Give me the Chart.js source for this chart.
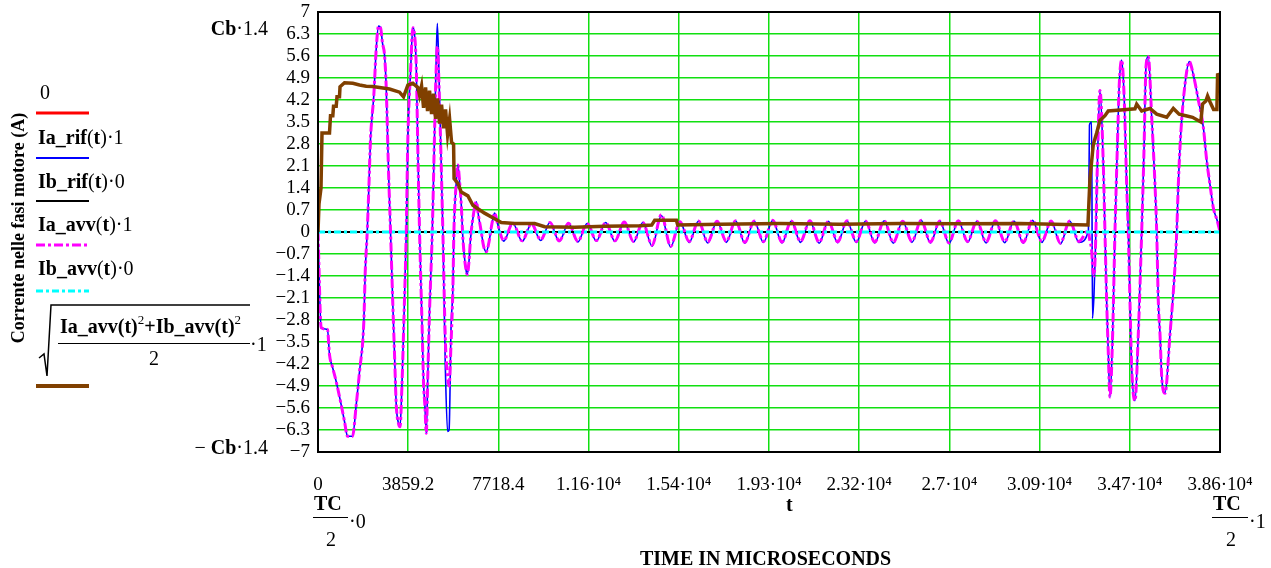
<!DOCTYPE html>
<html>
<head>
<meta charset="utf-8">
<script src="https://cdn.jsdelivr.net/npm/chart.js@4"></script>
<style>
html, body { margin: 0; padding: 0; background: #fff; }
#wrap { position: relative; width: 1271px; height: 568px; font-family: "Liberation Serif", "Times New Roman", serif; color: #000; }
#wrap canvas { position: absolute; left: 0; top: 0; }
.t { position: absolute; white-space: nowrap; font-size: 20px; line-height: 20px; }
.bar { position: absolute; height: 0; border-top: 1.5px solid #000; }
sup { font-size: 13px; vertical-align: 0; position: relative; top: -9px; }
</style>
</head>
<body>
<div id="wrap">
<canvas id="chart" width="1271" height="568"></canvas>

<div class="t" style="left:18px;top:228px;font-weight:bold;font-size:18px;transform:translate(-50%,-50%) rotate(-90deg);">Corrente nelle fasi motore (A)</div>

<div class="t" style="right:1003px;top:18px;"><b>Cb</b>·1.4</div>
<div class="t" style="right:1003px;top:437px;">− <b>Cb</b>·1.4</div>

<div class="t" style="left:40px;top:82px;">0</div>
<div class="t" style="left:38px;top:127px;"><b>Ia_rif</b>(<b>t</b>)·1</div>
<div class="t" style="left:38px;top:171px;"><b>Ib_rif</b>(<b>t</b>)·0</div>
<div class="t" style="left:38px;top:214px;"><b>Ia_avv</b>(<b>t</b>)·1</div>
<div class="t" style="left:38px;top:258px;"><b>Ib_avv</b>(<b>t</b>)·0</div>
<div class="t" style="left:60px;top:316px;"><b>Ia_avv(t)</b><sup>2</sup><b>+Ib_avv(t)</b><sup>2</sup></div>
<div class="bar" style="left:58px;top:343px;width:192px;"></div>
<div class="t" style="left:149px;top:348px;">2</div>
<div class="t" style="left:250px;top:334px;">·1</div>

<div class="t" style="left:314px;top:493px;font-weight:bold;">TC</div>
<div class="bar" style="left:313px;top:517px;width:35px;"></div>
<div class="t" style="left:326px;top:529px;">2</div>
<div class="t" style="left:349px;top:511px;">·0</div>
<div class="t" style="left:1213px;top:493px;font-weight:bold;">TC</div>
<div class="bar" style="left:1212px;top:517px;width:36px;"></div>
<div class="t" style="left:1226px;top:529px;">2</div>
<div class="t" style="left:1249px;top:511px;">·1</div>
<div class="t" style="left:786px;top:494px;font-weight:bold;">t</div>
<div class="t" style="left:640px;top:548px;font-weight:bold;font-size:20px;">TIME IN MICROSECONDS</div>

<svg style="position:absolute;left:0;top:0;" width="320" height="420">
  <line x1="36" y1="113" x2="89" y2="113" stroke="#ff0000" stroke-width="3"/>
  <line x1="36" y1="158" x2="89" y2="158" stroke="#0000ff" stroke-width="2"/>
  <line x1="36" y1="201" x2="89" y2="201" stroke="#000000" stroke-width="2"/>
  <line x1="36" y1="245" x2="89" y2="245" stroke="#ff00ff" stroke-width="3" stroke-dasharray="9 3 3 3"/>
  <line x1="36" y1="291" x2="89" y2="291" stroke="#00ffff" stroke-width="3" stroke-dasharray="7 3 3 3"/>
  <line x1="36" y1="386" x2="89" y2="386" stroke="#804000" stroke-width="4"/>
  <polyline points="39,358 44,354 47,376 51,305 250,305" fill="none" stroke="#000" stroke-width="1.5"/>
</svg>
</div>

<script>
// time axis (microseconds)
const xTickValues = [0, 3859.2, 7718.4, 11577.6, 15436.8, 19296, 23155.2, 27014.4, 30873.6, 34732.8, 38592];
const xTickLabels = ['0', '3859.2', '7718.4', '1.16·10⁴', '1.54·10⁴', '1.93·10⁴', '2.32·10⁴', '2.7·10⁴', '3.09·10⁴', '3.47·10⁴', '3.86·10⁴'];
const yTickValues = [-7, -6.3, -5.6, -4.9, -4.2, -3.5, -2.8, -2.1, -1.4, -0.7, 0, 0.7, 1.4, 2.1, 2.8, 3.5, 4.2, 4.9, 5.6, 6.3, 7];
const yTickLabels = ['−7', '−6.3', '−5.6', '−4.9', '−4.2', '−3.5', '−2.8', '−2.1', '−1.4', '−0.7', '0', '0.7', '1.4', '2.1', '2.8', '3.5', '4.2', '4.9', '5.6', '6.3', '7'];

// phase currents, sampled at the same instants
const tPhase = [
  0, 137, 407, 492, 621, 779, 993, 1134, 1263, 1477, 1635, 1777, 1961, 2021, 2106, 2175, 2248, 2389, 2492, 2590,
  2676, 2761, 2847, 2920, 3018, 3104, 3202, 3275, 3348, 3446, 3510, 3588, 3673, 3776, 3844, 3960, 4058, 4110, 4204, 4272,
  4345, 4461, 4516, 4580, 4632, 4700, 4773, 4889, 4987, 5060, 5107, 5200, 5343, 5445, 5544, 5608, 5694, 5771, 5814, 5917,
  5985, 6058, 6131, 6199, 6345, 6387, 6464, 6528, 6670, 6773, 6871, 6987, 7085, 7201, 7320, 7427, 7556, 7706,
  7941, 8338, 8735, 9132, 9529, 9926, 10323, 10720, 11117, 11514, 11912, 12309, 12706, 13103, 13500, 13897,
  14294, 14691, 15088, 15485, 15882, 16279, 16676, 17073, 17470, 17867, 18264, 18661, 19058, 19455, 19852, 20249,
  20647, 21044, 21441, 21838, 22235, 22632, 23029, 23426, 23823, 24220, 24617, 25014, 25411, 25808, 26205, 26602,
  26999, 27396, 27793, 28190, 28587, 28984, 29382, 29779, 30176, 30573, 30970, 31367, 31764, 32161, 32558,
  32964, 33007, 33101, 33135, 33200, 33264, 33341, 33456, 33597, 33670, 33743, 33811, 33884, 33999, 34098, 34196,
  34282, 34385, 34496, 34599, 34668, 34740, 34813, 34954, 35096, 35241, 35340, 35426, 35524, 35670, 35811, 35884,
  35952, 36025, 36098, 36239, 36453, 36667, 36740, 36808, 36911, 37095, 37280, 37451, 37665, 37879, 38025, 38166,
  38306, 38478, 38592
];

const iaAvv = [
  0, -3.05, -3.1, -3.9, -4.3, -4.76, -5.5, -6.03, -6.5, -6.5, -5.5, -4.44, -2.85, -1.26, 0, 1.39, 2.98, 4.36, 5.84, 6.55,
  6.5, 6.0, 5.63, 4.57, 1.92, 0, -2.32, -3.9, -5.5, -6.1, -6.2, -4.96, -2.85, 0, 2.98, 5.1, 6.5, 6.4, 5.26, 2.6,
  0, -3.2, -4.8, -5.6, -6.4, -4.5, -2.5, 0, 3.15, 5.26, 5.9, 4.04, 0, -3.37, -4.6, -4.9, -3.5, -1.79, 0, 1.6,
  2.13, 1.6, 0.86, -0.2, -1.26, -1.35, -0.9, -0.2, 0.65, 0.96, 0.5, 0, -0.45, -0.63, -0.3, 0.2, 0.6, 0.2,
  -0.27, 0.28, -0.28, 0.26, -0.25, 0.3, -0.28, 0.28, -0.3, 0.27, -0.27, 0.3, -0.28, 0.32, -0.3, 0.3,
  -0.42, 0.55, -0.45, 0.33, -0.3, 0.35, -0.32, 0.34, -0.3, 0.36, -0.33, 0.35, -0.3, 0.37, -0.32, 0.35,
  -0.3, 0.36, -0.33, 0.34, -0.31, 0.36, -0.3, 0.35, -0.32, 0.36, -0.33, 0.34, -0.3, 0.37, -0.32, 0.35,
  -0.34, 0.36, -0.3, 0.34, -0.32, 0.36, -0.31, 0.35, -0.33, 0.37, -0.3, 0.35, -0.35, 0.35, -0.3,
  0.05, -0.2, -0.6, -1.0, -1.4, -0.5, 2.0, 4.5, 2.2, 0, -2.2, -3.8, -5.25, -3.25, 0, 2.6,
  4.7, 5.47, 4.2, 1.5, 0, -2.2, -4.3, -5.37, -3.25, 0, 2.6, 5.26, 5.58, 3.65, 1.5, 0,
  -2.2, -3.25, -4.6, -5.13, -3.25, -1.1, 0, 1.5, 3.1, 4.7, 5.42, 5.0, 4.2, 3.33, 2.26, 1.5,
  0.77, 0.35, 0
];

const iaRif = [
  0, -3.05, -3.1, -3.9, -4.3, -4.76, -5.5, -6.03, -6.5, -6.5, -5.5, -4.44, -2.85, -1.26, 0, 1.39, 2.98, 4.36, 5.84, 6.55,
  6.5, 6.0, 5.63, 4.57, 1.92, 0, -2.32, -3.9, -5.5, -6.1, -6.2, -4.96, -2.85, 0, 2.98, 5.1, 6.5, 6.4, 5.26, 2.6,
  0, -3.2, -4.8, -5.6, -6.4, -4.5, -2.5, 0, 3.15, 5.6, 6.64, 4.3, 0, -4.2, -6.35, -6.3, -3.0, -1.79, 0, 1.6,
  2.13, 1.6, 0.86, -0.2, -1.26, -1.35, -0.9, -0.2, 0.65, 0.96, 0.5, 0, -0.45, -0.63, -0.3, 0.2, 0.6, 0.2,
  -0.29, 0.28, -0.3, 0.26, -0.27, 0.3, -0.3, 0.28, -0.32, 0.27, -0.29, 0.3, -0.3, 0.32, -0.32, 0.3,
  -0.45, 0.52, -0.48, 0.33, -0.33, 0.35, -0.35, 0.34, -0.33, 0.36, -0.36, 0.35, -0.33, 0.37, -0.35, 0.35,
  -0.33, 0.36, -0.36, 0.34, -0.34, 0.36, -0.33, 0.35, -0.35, 0.36, -0.36, 0.34, -0.33, 0.37, -0.35, 0.35,
  -0.37, 0.36, -0.33, 0.34, -0.35, 0.36, -0.34, 0.35, -0.36, 0.37, -0.33, 0.35, -0.38, 0.35, -0.33,
  0.05, 3.4, 3.5, -2.75, -2.0, -0.5, 2.0, 4.5, 2.2, 0, -2.2, -3.8, -5.25, -3.25, 0, 2.6,
  4.7, 5.47, 4.2, 1.5, 0, -2.2, -4.3, -5.37, -3.25, 0, 2.6, 5.26, 5.58, 3.65, 1.5, 0,
  -2.2, -3.25, -4.6, -5.13, -3.25, -1.1, 0, 1.5, 3.1, 4.7, 5.42, 5.0, 4.2, 3.33, 2.26, 1.5,
  0.77, 0.35, 0
];

// rms of the two phases
const tRms = [
  0, 43, 128, 171, 492, 535, 634, 664, 779, 813, 920, 942, 1134, 1490, 1777, 2063, 2333, 2633, 3061, 3489,
  3660, 3844, 4058, 4272, 4345, 4431, 4516, 4602, 4687, 4773, 4859, 4944, 5030, 5116, 5201, 5287, 5373, 5458, 5544, 5630,
  5715, 5801, 5822, 5985, 6131, 6413, 6627, 6841, 7128, 7556, 7843, 8412, 9268, 9696, 10981, 12265, 13763, 14277, 14406, 15335,
  15390, 17188, 19757, 22325, 24894, 27463, 30031, 32942, 33028, 33169, 33242, 33315, 33456, 33670, 33811, 34599, 34954, 35027, 35241, 35597,
  35884, 36312, 36595, 36843, 37130, 37417, 37772, 37845, 37987, 38060, 38171, 38317, 38459, 38489, 38592
];
const rmsAvv = [
  0, 0.9, 1.4, 3.15, 3.15, 3.7, 3.7, 4.0, 4.0, 4.3, 4.3, 4.62, 4.75, 4.73, 4.68, 4.64, 4.63, 4.6, 4.55, 4.45,
  4.3, 4.67, 4.73, 4.6, 4.35, 4.65, 3.95, 4.6, 3.85, 4.5, 3.75, 4.4, 3.6, 4.25, 3.45, 4.05, 3.3, 3.9, 3.1, 3.6,
  2.85, 2.8, 1.7, 1.55, 1.27, 1.15, 0.85, 0.74, 0.6, 0.42, 0.3, 0.27, 0.27, 0.17, 0.15, 0.18, 0.2, 0.22, 0.37, 0.37,
  0.22, 0.25, 0.27, 0.25, 0.27, 0.26, 0.27, 0.22, 1.7, 2.77, 2.97, 3.15, 3.55, 3.7, 3.85, 3.9, 3.92, 4.07, 3.85, 3.93,
  3.75, 3.65, 3.93, 3.75, 3.7, 3.65, 3.5, 4.07, 4.17, 4.33, 4.13, 3.9, 3.9, 5.0, 5.02
];

// constant traces (multiplied by 0)
const tFlat = [0, 38592];
const zeroRef = [0, 0];
const ibRif = [0, 0];
const ibAvv = [0, 0];

function pts(ts, vs) {
    return ts.map(function (t, i) { return { x: t, y: vs[i] }; });
}

const frame = {
    id: 'frame',
    afterDraw: function (chart) {
        const a = chart.chartArea;
        const ctx = chart.ctx;
        ctx.save();
        ctx.strokeStyle = '#000';
        ctx.lineWidth = 2;
        ctx.strokeRect(a.left, a.top, a.right - a.left, a.bottom - a.top);
        ctx.restore();
    }
};

const serif = '"Liberation Serif", "Times New Roman", serif';

new Chart(document.getElementById('chart'), {
    type: 'line',
    data: {
        datasets: [
            { data: pts(tFlat, zeroRef), borderColor: '#ff0000', borderWidth: 2, pointRadius: 0, order: 6 },
            { data: pts(tPhase, iaRif), borderColor: '#0000ff', borderWidth: 1.6, pointRadius: 0, cubicInterpolationMode: 'monotone', order: 5 },
            { data: pts(tFlat, ibRif), borderColor: '#000000', borderWidth: 2, pointRadius: 0, order: 4 },
            { data: pts(tPhase, iaAvv), borderColor: '#ff00ff', borderWidth: 3, borderDash: [9, 3, 3, 3], pointRadius: 0, cubicInterpolationMode: 'monotone', order: 3 },
            { data: pts(tFlat, ibAvv), borderColor: '#00ffff', borderWidth: 3, borderDash: [7, 3, 3, 3], pointRadius: 0, order: 2 },
            { data: pts(tRms, rmsAvv), borderColor: '#804000', borderWidth: 3.5, pointRadius: 0, tension: 0, order: 1 }
        ]
    },
    options: {
        responsive: false,
        animation: false,
        layout: { padding: { left: 0, right: 51, top: 12, bottom: 0 } },
        plugins: { legend: { display: false }, tooltip: { enabled: false } },
        scales: {
            x: {
                type: 'linear',
                min: 0,
                max: 38592,
                afterBuildTicks: function (s) { s.ticks = xTickValues.map(function (v) { return { value: v }; }); },
                afterFit: function (s) { s.height = 116; s.paddingLeft = 0; s.paddingRight = 0; },
                grid: { color: '#10e010', lineWidth: 1.5, drawTicks: false },
                border: { display: false },
                ticks: {
                    autoSkip: false, maxRotation: 0, padding: 22, color: '#000',
                    font: { family: serif, size: 19 },
                    callback: function (v, i) { return xTickLabels[i]; }
                }
            },
            y: {
                min: -7,
                max: 7,
                afterBuildTicks: function (s) { s.ticks = yTickValues.map(function (v) { return { value: v }; }); },
                afterFit: function (s) { s.width = 318; s.paddingTop = 0; s.paddingBottom = 0; },
                grid: { color: '#10e010', lineWidth: 1.5, drawTicks: false },
                border: { display: false },
                ticks: {
                    autoSkip: false, padding: 8, color: '#000',
                    font: { family: serif, size: 19 },
                    callback: function (v, i) { return yTickLabels[i]; }
                }
            }
        }
    },
    plugins: [frame]
});
</script>
</body>
</html>
